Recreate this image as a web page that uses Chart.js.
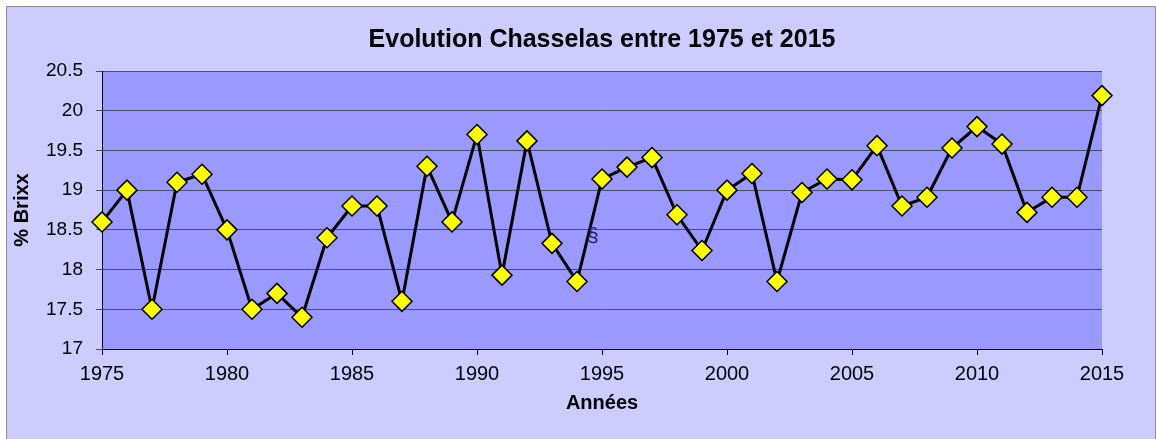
<!DOCTYPE html>
<html>
<head>
<meta charset="utf-8">
<script src="https://cdn.jsdelivr.net/npm/chart.js@4"></script>
<style>
  html, body { margin: 0; padding: 0; background: #ffffff; width: 1156px; height: 439px; overflow: hidden; }
  #frame { position: absolute; left: 6px; top: 6px; width: 1148px; height: 440px; border: 1px solid #8c8c8c; background: #ccccff; }
  #wrap { position: absolute; left: 0; top: 0; width: 1148px; height: 432px; }
</style>
</head>
<body>
<div id="frame"><div id="wrap"><canvas id="c" width="1148" height="432"></canvas></div></div>
<script>
const years = [1975,1976,1977,1978,1979,1980,1981,1982,1983,1984,1985,1986,1987,1988,1989,1990,1991,1992,1993,1994,1995,1996,1997,1998,1999,2000,2001,2002,2003,2004,2005,2006,2007,2008,2009,2010,2011,2012,2013,2014,2015];
const brix = [18.6,19.0,17.5,19.1,19.2,18.5,17.5,17.7,17.4,18.4,18.8,18.8,17.6,19.3,18.6,19.7,17.93,19.62,18.33,17.85,19.14,19.29,19.41,18.69,18.24,19.0,19.21,17.85,18.97,19.14,19.13,19.56,18.8,18.91,19.53,19.8,19.58,18.72,18.91,18.91,20.19];
const titleText = 'Evolution Chasselas entre 1975 et 2015';
const xTitle = 'Années';
const yTitle = '% Brixx';
const stray = { text: '§', x: 1994.64, y: 18.42 };

const plotBg = {
  id: 'plotBg',
  beforeDraw(chart) {
    const a = chart.chartArea, ctx = chart.ctx;
    ctx.save();
    ctx.fillStyle = '#9999ff';
    ctx.fillRect(a.left, a.top, a.right - a.left, a.bottom - a.top);
    ctx.restore();
  }
};
const strayMark = {
  id: 'strayMark',
  afterDatasetsDraw(chart) {
    const ctx = chart.ctx;
    ctx.save();
    ctx.font = '20px "Liberation Sans", Arial, sans-serif';
    ctx.fillStyle = '#24245a';
    ctx.textAlign = 'center';
    ctx.textBaseline = 'middle';
    ctx.fillText(stray.text, chart.scales.x.getPixelForValue(stray.x), chart.scales.y.getPixelForValue(stray.y));
    ctx.restore();
  }
};

const FONT = '"Liberation Sans", Arial, sans-serif';

new Chart(document.getElementById('c'), {
  type: 'line',
  data: {
    datasets: [{
      data: years.map((y, i) => ({ x: y, y: brix[i] })),
      borderColor: '#000000',
      borderWidth: 3,
      pointStyle: 'rectRot',
      pointRadius: 10,
      pointHoverRadius: 10,
      pointBackgroundColor: '#ffff00',
      pointBorderColor: '#000000',
      pointBorderWidth: 1.5,
      tension: 0,
      clip: false
    }]
  },
  options: {
    responsive: false,
    animation: false,
    events: [],
    layout: { padding: { left: 0, right: 53, top: 0, bottom: 0 } },
    plugins: {
      legend: { display: false },
      tooltip: { enabled: false },
      title: {
        display: true,
        text: titleText,
        fullSize: false,
        color: '#000000',
        font: { family: FONT, size: 25, weight: 'bold', lineHeight: 1.2 },
        padding: { top: 18, bottom: 16 }
      }
    },
    scales: {
      x: {
        type: 'linear',
        min: 1975,
        max: 2015,
        afterFit(s) { s.height = 90; },
        ticks: {
          stepSize: 5,
          padding: 7,
          color: '#000000',
          maxRotation: 0,
          font: { family: FONT, size: 20 },
          callback: v => String(v)
        },
        grid: { drawOnChartArea: false, drawTicks: true, tickLength: 6, color: '#000000', lineWidth: 1 },
        border: { display: true, color: '#000000', width: 1 },
        title: {
          display: true,
          text: xTitle,
          color: '#000000',
          font: { family: FONT, size: 20, weight: 'bold', lineHeight: 1.2 },
          padding: { top: 0, bottom: 24 }
        }
      },
      y: {
        min: 17,
        max: 20.5,
        afterFit(s) { s.width = 95; },
        ticks: {
          stepSize: 0.5,
          padding: 13,
          color: '#000000',
          font: { family: FONT, size: 19 },
          callback: v => String(v)
        },
        grid: { drawOnChartArea: true, drawTicks: true, tickLength: 6, color: '#4c4c70', lineWidth: 1 },
        border: { display: true, color: '#000000', width: 1 },
        title: {
          display: true,
          text: yTitle,
          color: '#000000',
          font: { family: FONT, size: 20, weight: 'bold', lineHeight: 1.2 },
          padding: { top: 3, bottom: 0 }
        }
      }
    }
  },
  plugins: [plotBg, strayMark]
});
</script>
</body>
</html>
